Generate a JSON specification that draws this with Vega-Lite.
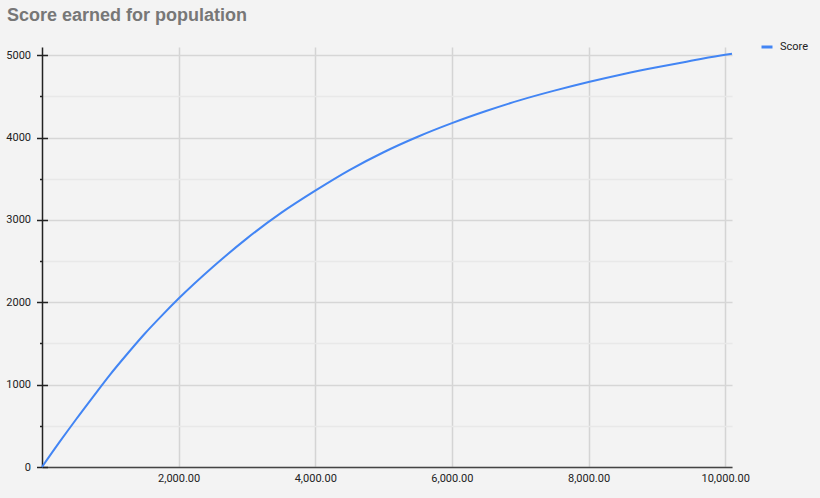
{
  "$schema": "https://vega.github.io/schema/vega-lite/v6.json",
  "width": 690,
  "height": 420,
  "autosize": {"type": "none"},
  "padding": {"left": 42, "top": 47, "right": 88, "bottom": 31},
  "background": "#f3f3f3",
  "title": {
    "text": "Score earned for population",
    "anchor": "start",
    "frame": "group",
    "font": "Liberation Sans",
    "fontSize": 18,
    "fontWeight": "bold",
    "color": "#777777",
    "dx": -35,
    "offset": 15
  },
  "config": {
    "view": {"stroke": null},
    "axis": {"labelFont": "Roboto", "labelFontSize": 11, "labelColor": "#222222", "title": null}
  },
  "data": {
    "values": [
      {"population": 0, "score": 0, "series": "Score"},
      {"population": 250, "score": 295, "series": "Score"},
      {"population": 500, "score": 580, "series": "Score"},
      {"population": 750, "score": 855, "series": "Score"},
      {"population": 1000, "score": 1125, "series": "Score"},
      {"population": 1250, "score": 1375, "series": "Score"},
      {"population": 1500, "score": 1615, "series": "Score"},
      {"population": 1750, "score": 1835, "series": "Score"},
      {"population": 2000, "score": 2045, "series": "Score"},
      {"population": 2500, "score": 2428, "series": "Score"},
      {"population": 3000, "score": 2776, "series": "Score"},
      {"population": 3500, "score": 3085, "series": "Score"},
      {"population": 4000, "score": 3355, "series": "Score"},
      {"population": 4500, "score": 3605, "series": "Score"},
      {"population": 5000, "score": 3822, "series": "Score"},
      {"population": 5500, "score": 4010, "series": "Score"},
      {"population": 6000, "score": 4175, "series": "Score"},
      {"population": 6500, "score": 4322, "series": "Score"},
      {"population": 7000, "score": 4455, "series": "Score"},
      {"population": 7500, "score": 4570, "series": "Score"},
      {"population": 8000, "score": 4675, "series": "Score"},
      {"population": 8500, "score": 4770, "series": "Score"},
      {"population": 9000, "score": 4855, "series": "Score"},
      {"population": 9500, "score": 4932, "series": "Score"},
      {"population": 10000, "score": 5006, "series": "Score"},
      {"population": 10100, "score": 5018, "series": "Score"}
    ]
  },
  "encoding": {
    "x": {
      "field": "population", "type": "quantitative",
      "scale": {"domain": [0, 10100], "nice": false},
      "axis": {
        "values": [2000, 4000, 6000, 8000, 10000],
        "format": ",.2f",
        "grid": true,
        "gridColor": "#d4d4d4",
        "gridWidth": 1.5,
        "ticks": false,
        "domainColor": "#444444",
        "domainWidth": 1.5,
        "labelPadding": 5
      }
    }
  },
  "layer": [
    {
      "mark": {"type": "line", "opacity": 0},
      "encoding": {
        "y": {
          "field": "score", "type": "quantitative",
          "scale": {"domain": [0, 5100], "nice": false},
          "axis": {
            "orient": "left",
            "values": [0, 1000, 2000, 3000, 4000, 5000],
            "labels": false,
            "domain": false,
            "grid": false,
            "ticks": true,
            "tickSize": -5.5,
            "tickColor": "#222222",
            "tickWidth": 1.5
          }
        }
      }
    },
    {
      "mark": {"type": "line", "color": "#4285f4", "strokeWidth": 2, "interpolate": "monotone"},
      "encoding": {
        "y": {
          "field": "score", "type": "quantitative",
          "scale": {"domain": [0, 5100], "nice": false},
          "axis": {
            "orient": "left",
            "values": [0, 500, 1000, 1500, 2000, 2500, 3000, 3500, 4000, 4500, 5000],
            "format": "d",
            "labelExpr": "datum.value % 1000 === 0 ? datum.label : ''",
            "grid": true,
            "gridColor": {"condition": {"test": "datum.value % 1000 === 0", "value": "#d6d6d6"}, "value": "#e8e8e8"},
            "gridWidth": 1.5,
            "tickSize": {"condition": {"test": "datum.value % 1000 === 0", "value": 5.5}, "value": 2.5},
            "tickColor": "#222222",
            "tickWidth": 1.5,
            "domainColor": "#222222",
            "domainWidth": 1.5,
            "labelPadding": 6
          }
        },
        "color": {
          "field": "series", "type": "nominal",
          "scale": {"range": ["#4285f4"]},
          "legend": {
            "title": null,
            "orient": "none",
            "legendX": 718,
            "legendY": -7,
            "symbolType": "stroke",
            "symbolStrokeWidth": 3,
            "symbolSize": 121,
            "labelFont": "Roboto",
            "labelFontSize": 11,
            "labelColor": "#222222",
            "labelOffset": 6
          }
        }
      }
    }
  ],
  "resolve": {"axis": {"y": "independent"}}
}
